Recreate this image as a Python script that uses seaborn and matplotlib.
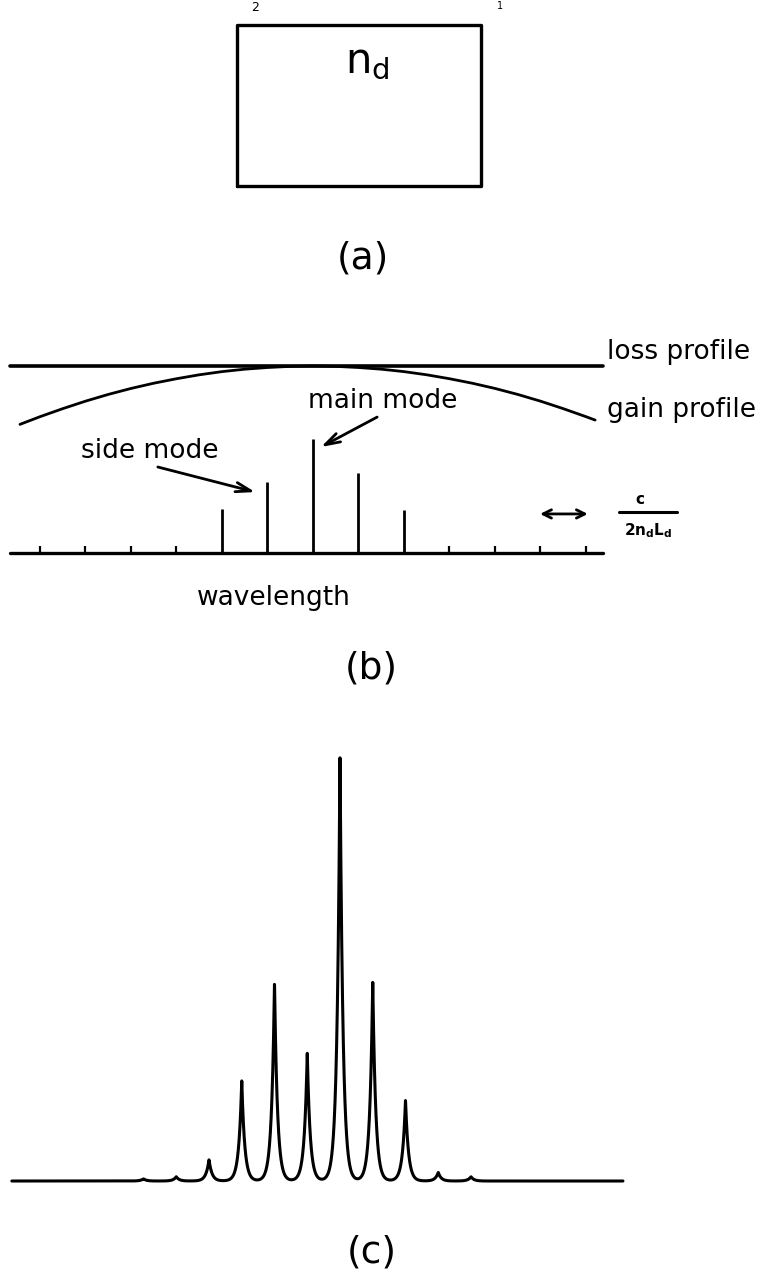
import numpy as np
import pandas as pd
import matplotlib
matplotlib.use("Agg")
import matplotlib.pyplot as plt
import seaborn as sns

# ---------------- data ----------------
# (a) cavity outline in normalised units (length x thickness)
cavity_x = [0, 1, 1, 0, 0]
cavity_y = [0, 0, 1, 1, 0]

# (b) longitudinal mode indices and heights (loss level = 1)
mode_index = [-2, -1, 0, 1, 2]
mode_height = [0.235, 0.38, 0.61, 0.43, 0.23]
tick_index = [-6, -5, -4, -3, 3, 4, 5, 6]
loss_level = 1.0
axis_span = [-6.66, 6.37]
gain_index = [-6.44, -6, -5.5, -5, -4.5, -4, -3.5, -3, -2.5, -2, -1.5, -1, -0.5,
              0, 0.5, 1, 1.5, 2, 2.5, 3, 3.5, 4, 4.5, 5, 5.5, 6, 6.2]
gain_value = [0.688, 0.729, 0.772, 0.812, 0.848, 0.880, 0.908, 0.932, 0.953, 0.970,
              0.983, 0.992, 0.998, 1.0, 0.998, 0.992, 0.983, 0.970, 0.953, 0.932,
              0.908, 0.880, 0.848, 0.812, 0.772, 0.729, 0.711]

# (c) measured spectrum: peak index and relative intensity
peak_index = [-6, -5, -4, -3, -2, -1, 0, 1, 2, 3, 4]
peak_intensity = [0.005, 0.01, 0.05, 0.235, 0.465, 0.30, 1.0, 0.467, 0.19, 0.02, 0.01]
spectrum_span = [-10.02, 8.64]

# ---------------- styling ----------------
sns.set_theme(style="white")
plt.rcParams["font.family"] = ["DejaVu Sans"]
plt.rcParams["mathtext.fontset"] = "dejavusans"
plt.rcParams["text.color"] = "black"

W, H = 766, 1275
fig = plt.figure(figsize=(W / 100, H / 100), dpi=100)
fig.patch.set_facecolor("white")


def px_axes(x0, y0, x1, y1):
    ax = fig.add_axes([x0 / W, 1 - y1 / H, (x1 - x0) / W, (y1 - y0) / H])
    ax.set_axis_off()
    return ax


def fig_text(px, py, s, **kw):
    fig.text(px / W, 1 - py / H, s, **kw)


# ---------------- (a) ----------------
ax_a = px_axes(0, 0, W, 300)
ax_a.set_xlim(-0.971, 2.168)
ax_a.set_ylim(-0.708, 1.155)
sns.lineplot(x=cavity_x, y=cavity_y, sort=False, estimator=None, ax=ax_a,
             color="black", lw=2.4)
ax_a.text(0.443, 0.70, r"$\mathregular{n_d}$", fontsize=30, ha="left", va="baseline")
fig_text(255, 1, "2", fontsize=9, ha="center", va="top")
fig_text(500, 1, "1", fontsize=7, ha="center", va="top")
fig_text(363, 259, "(a)", fontsize=27, ha="center", va="center")

# ---------------- (b) ----------------
ax_b = px_axes(0, 320, W, 640)
ax_b.set_xlim(-6.879, 9.956)
ax_b.set_ylim(-0.465, 1.246)

sns.lineplot(x=axis_span, y=[loss_level, loss_level], ax=ax_b, color="black", lw=2.6)
sns.lineplot(x=gain_index, y=gain_value, sort=False, estimator=None, ax=ax_b,
             color="black", lw=2.0)
sns.lineplot(x=axis_span, y=[0, 0], ax=ax_b, color="black", lw=2.4)
ax_b.vlines(tick_index, 0, 0.04, color="black", lw=1.6)
ax_b.vlines(mode_index, 0, mode_height, color="black", lw=2.0)

arrow_kw = dict(arrowstyle="->,head_length=0.9,head_width=0.28", color="black", lw=2.0,
                shrinkA=0, shrinkB=0)
ax_b.annotate("", xy=(0.176, 0.567), xytext=(1.41, 0.727), arrowprops=arrow_kw)
ax_b.annotate("", xy=(-1.27, 0.326), xytext=(-3.41, 0.46), arrowprops=arrow_kw)
ax_b.text(1.54, 0.813, "main mode", fontsize=19, ha="center", va="center")
ax_b.text(-3.58, 0.545, "side mode", fontsize=19, ha="center", va="center")
ax_b.text(6.46, 1.075, "loss profile", fontsize=19, ha="left", va="center")
ax_b.text(6.46, 0.765, "gain profile", fontsize=19, ha="left", va="center")
ax_b.text(-0.857, -0.241, "wavelength", fontsize=19, ha="center", va="center")

ax_b.annotate("", xy=(6.04, 0.209), xytext=(4.99, 0.209),
              arrowprops=dict(arrowstyle="<->,head_length=0.5,head_width=0.25",
                              color="black", lw=2.0, shrinkA=0, shrinkB=0))
ax_b.plot([6.73, 8.0], [0.219, 0.219], color="black", lw=2.2)
ax_b.text(7.19, 0.285, "c", fontsize=11, fontweight="bold", ha="center", va="center")
ax_b.text(7.36, 0.118, r"$\mathbf{2n_dL_d}$", fontsize=11, ha="center", va="center")
fig_text(371, 668, "(b)", fontsize=27, ha="center", va="center")

# ---------------- (c) ----------------
ax_c = px_axes(0, 700, W, H)
ax_c.set_xlim(-10.382, 13.008)
ax_c.set_ylim(-0.2196, 1.1238)

grid = np.linspace(spectrum_span[0], spectrum_span[1], 6000)
line_width = 0.09  # decay width of each mode line, in mode spacings
level = np.zeros_like(grid)
for m, a in zip(peak_index, peak_intensity):
    level += a * np.exp(-np.abs(grid - m) / line_width)
spectrum = pd.DataFrame({"mode": grid, "intensity": level})
sns.lineplot(data=spectrum, x="mode", y="intensity", ax=ax_c, color="black", lw=2.2,
             estimator=None, sort=False)
fig_text(372, 1252, "(c)", fontsize=27, ha="center", va="center")

fig.savefig("out.png", dpi=100, facecolor="white")
